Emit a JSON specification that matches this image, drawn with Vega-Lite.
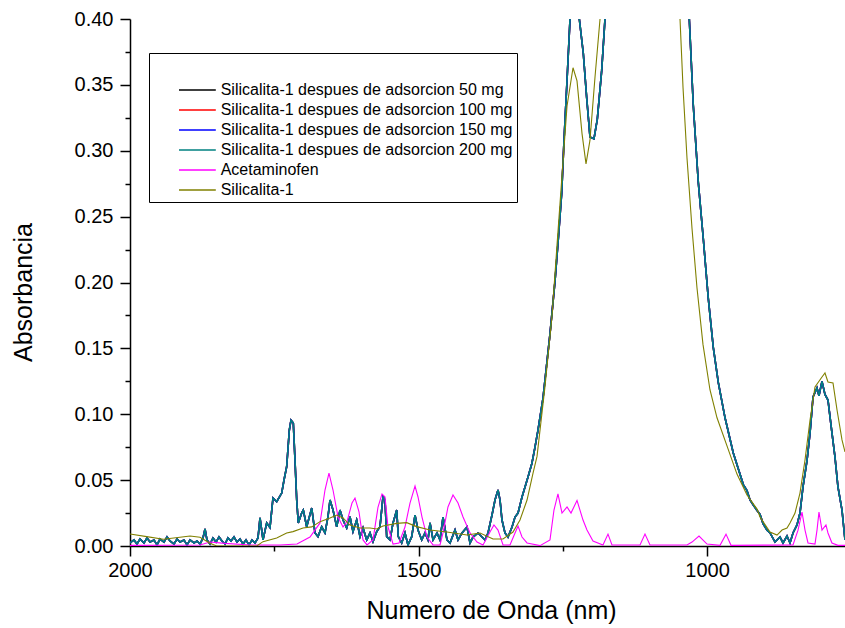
{
"$schema":"https://vega.github.io/schema/vega-lite/v6.json",
"width":715,"height":527,
"autosize":{"type":"none"},
"padding":{"left":130,"top":19,"right":0,"bottom":82},
"background":"white",
"config":{"view":{"stroke":null},"font":"Liberation Sans","axis":{"grid":false,"domainColor":"black","tickColor":"black","labelColor":"black","titleColor":"black","domainWidth":1.5,"tickWidth":1.5,"labelFont":"Liberation Sans","titleFont":"Liberation Sans","titleFontWeight":"normal"}},
"datasets":{
"ads":[
{"w":2000,"a50":0.0023,"a100":0.0023,"a150":0.0023,"a200":0.0023},
{"w":1993.1,"a50":0.0046,"a100":0.0046,"a150":0.0046,"a200":0.0046},
{"w":1987.9,"a50":0.0015,"a100":0.0015,"a150":0.0015,"a200":0.0015},
{"w":1982.7,"a50":0.0053,"a100":0.0053,"a150":0.0053,"a200":0.0053},
{"w":1975.7,"a50":0.0023,"a100":0.0023,"a150":0.0023,"a200":0.0023},
{"w":1970.5,"a50":0.0061,"a100":0.0061,"a150":0.0061,"a200":0.0061},
{"w":1965.3,"a50":0.003,"a100":0.003,"a150":0.003,"a200":0.003},
{"w":1958.4,"a50":0.0046,"a100":0.0046,"a150":0.0046,"a200":0.0046},
{"w":1953.2,"a50":0.0008,"a100":0.0008,"a150":0.0008,"a200":0.0008},
{"w":1948,"a50":0.0053,"a100":0.0053,"a150":0.0053,"a200":0.0053},
{"w":1941.1,"a50":0.003,"a100":0.003,"a150":0.003,"a200":0.003},
{"w":1935.9,"a50":0.0068,"a100":0.0068,"a150":0.0068,"a200":0.0068},
{"w":1930.7,"a50":0.0038,"a100":0.0038,"a150":0.0038,"a200":0.0038},
{"w":1923.8,"a50":0.0015,"a100":0.0015,"a150":0.0015,"a200":0.0015},
{"w":1918.5,"a50":0.0053,"a100":0.0053,"a150":0.0053,"a200":0.0053},
{"w":1913.4,"a50":0.003,"a100":0.003,"a150":0.003,"a200":0.003},
{"w":1906.4,"a50":0.0046,"a100":0.0046,"a150":0.0046,"a200":0.0046},
{"w":1901.2,"a50":0.0008,"a100":0.0008,"a150":0.0008,"a200":0.0008},
{"w":1896,"a50":0.0046,"a100":0.0046,"a150":0.0046,"a200":0.0046},
{"w":1889.1,"a50":0.0023,"a100":0.0023,"a150":0.0023,"a200":0.0023},
{"w":1883.9,"a50":0.0038,"a100":0.0038,"a150":0.0038,"a200":0.0038},
{"w":1878.7,"a50":0.0015,"a100":0.0015,"a150":0.0015,"a200":0.0015},
{"w":1873.5,"a50":0.0061,"a100":0.0061,"a150":0.0061,"a200":0.0061},
{"w":1870,"a50":0.0129,"a100":0.0129,"a150":0.0129,"a200":0.0129},
{"w":1866.6,"a50":0.0046,"a100":0.0046,"a150":0.0046,"a200":0.0046},
{"w":1861.4,"a50":0.0015,"a100":0.0015,"a150":0.0015,"a200":0.0015},
{"w":1856.2,"a50":0.0061,"a100":0.0061,"a150":0.0061,"a200":0.0061},
{"w":1850.9,"a50":0.003,"a100":0.003,"a150":0.003,"a200":0.003},
{"w":1845.8,"a50":0.0068,"a100":0.0068,"a150":0.0068,"a200":0.0068},
{"w":1840.6,"a50":0.0038,"a100":0.0038,"a150":0.0038,"a200":0.0038},
{"w":1835.4,"a50":0.0015,"a100":0.0015,"a150":0.0015,"a200":0.0015},
{"w":1830.2,"a50":0.0061,"a100":0.0061,"a150":0.0061,"a200":0.0061},
{"w":1825,"a50":0.0038,"a100":0.0038,"a150":0.0038,"a200":0.0038},
{"w":1819.8,"a50":0.0068,"a100":0.0068,"a150":0.0068,"a200":0.0068},
{"w":1814.6,"a50":0.003,"a100":0.003,"a150":0.003,"a200":0.003},
{"w":1809.4,"a50":0.0053,"a100":0.0053,"a150":0.0053,"a200":0.0053},
{"w":1804.2,"a50":0.0015,"a100":0.0015,"a150":0.0015,"a200":0.0015},
{"w":1799,"a50":0.0046,"a100":0.0046,"a150":0.0046,"a200":0.0046},
{"w":1793.8,"a50":0.0008,"a100":0.0008,"a150":0.0008,"a200":0.0008},
{"w":1788.6,"a50":0.0046,"a100":0.0046,"a150":0.0046,"a200":0.0046},
{"w":1783.4,"a50":0.0023,"a100":0.0023,"a150":0.0023,"a200":0.0023},
{"w":1778.2,"a50":0.0061,"a100":0.0061,"a150":0.0061,"a200":0.0061},
{"w":1774.7,"a50":0.0213,"a100":0.0213,"a150":0.0213,"a200":0.0213},
{"w":1769.5,"a50":0.0046,"a100":0.0046,"a150":0.0046,"a200":0.0046},
{"w":1763.1,"a50":0.0175,"a100":0.0175,"a150":0.0175,"a200":0.0175},
{"w":1757.4,"a50":0.014,"a100":0.014,"a150":0.014,"a200":0.014},
{"w":1752.2,"a50":0.0364,"a100":0.0364,"a150":0.0364,"a200":0.0364},
{"w":1745.8,"a50":0.0336,"a100":0.0336,"a150":0.0336,"a200":0.0336},
{"w":1737.1,"a50":0.0402,"a100":0.0402,"a150":0.0402,"a200":0.0402},
{"w":1733.1,"a50":0.0501,"a100":0.0501,"a150":0.0501,"a200":0.0501},
{"w":1728.5,"a50":0.0602,"a100":0.0602,"a150":0.0602,"a200":0.0602},
{"w":1723.9,"a50":0.088,"a100":0.088,"a150":0.088,"a200":0.088},
{"w":1721,"a50":0.0956,"a100":0.0956,"a150":0.0956,"a200":0.0956},
{"w":1717,"a50":0.0934,"a100":0.0934,"a150":0.0934,"a200":0.0934},
{"w":1714.1,"a50":0.0653,"a100":0.0653,"a150":0.0653,"a200":0.0653},
{"w":1711.1,"a50":0.0349,"a100":0.0349,"a150":0.0349,"a200":0.0349},
{"w":1708.4,"a50":0.0175,"a100":0.0175,"a150":0.0175,"a200":0.0175},
{"w":1702.5,"a50":0.025,"a100":0.025,"a150":0.025,"a200":0.025},
{"w":1699.7,"a50":0.0273,"a100":0.0273,"a150":0.0273,"a200":0.0273},
{"w":1693.8,"a50":0.0146,"a100":0.0146,"a150":0.0146,"a200":0.0146},
{"w":1685.1,"a50":0.0288,"a100":0.0288,"a150":0.0288,"a200":0.0288},
{"w":1679.4,"a50":0.0099,"a100":0.0099,"a150":0.0099,"a200":0.0099},
{"w":1674.2,"a50":0.0071,"a100":0.0071,"a150":0.0071,"a200":0.0071},
{"w":1667.8,"a50":0.0146,"a100":0.0146,"a150":0.0146,"a200":0.0146},
{"w":1662.1,"a50":0.0099,"a100":0.0099,"a150":0.0099,"a200":0.0099},
{"w":1656.9,"a50":0.0222,"a100":0.0222,"a150":0.0222,"a200":0.0222},
{"w":1653.4,"a50":0.0349,"a100":0.0349,"a150":0.0349,"a200":0.0349},
{"w":1648.2,"a50":0.0273,"a100":0.0273,"a150":0.0273,"a200":0.0273},
{"w":1641.8,"a50":0.0146,"a100":0.0146,"a150":0.0146,"a200":0.0146},
{"w":1636.1,"a50":0.0273,"a100":0.0273,"a150":0.0273,"a200":0.0273},
{"w":1630.9,"a50":0.0197,"a100":0.0197,"a150":0.0197,"a200":0.0197},
{"w":1624.5,"a50":0.0137,"a100":0.0137,"a150":0.0137,"a200":0.0137},
{"w":1618.8,"a50":0.0222,"a100":0.0222,"a150":0.0222,"a200":0.0222},
{"w":1613.6,"a50":0.0109,"a100":0.0109,"a150":0.0109,"a200":0.0109},
{"w":1607.2,"a50":0.0197,"a100":0.0197,"a150":0.0197,"a200":0.0197},
{"w":1601.4,"a50":0.0071,"a100":0.0071,"a150":0.0071,"a200":0.0071},
{"w":1596.2,"a50":0.0137,"a100":0.0137,"a150":0.0137,"a200":0.0137},
{"w":1589.8,"a50":0.0046,"a100":0.0046,"a150":0.0046,"a200":0.0046},
{"w":1584.1,"a50":0.0099,"a100":0.0099,"a150":0.0099,"a200":0.0099},
{"w":1578.9,"a50":0.0033,"a100":0.0033,"a150":0.0033,"a200":0.0033},
{"w":1572.5,"a50":0.0109,"a100":0.0109,"a150":0.0109,"a200":0.0109},
{"w":1566.8,"a50":0.0146,"a100":0.0146,"a150":0.0146,"a200":0.0146},
{"w":1561.6,"a50":0.0374,"a100":0.0374,"a150":0.0374,"a200":0.0374},
{"w":1558.1,"a50":0.0349,"a100":0.0349,"a150":0.0349,"a200":0.0349},
{"w":1555.2,"a50":0.0071,"a100":0.0071,"a150":0.0071,"a200":0.0071},
{"w":1549.4,"a50":0.0046,"a100":0.0046,"a150":0.0046,"a200":0.0046},
{"w":1544.2,"a50":0.0175,"a100":0.0175,"a150":0.0175,"a200":0.0175},
{"w":1537.8,"a50":0.0273,"a100":0.0273,"a150":0.0273,"a200":0.0273},
{"w":1535.1,"a50":0.0071,"a100":0.0071,"a150":0.0071,"a200":0.0071},
{"w":1529.2,"a50":0.0023,"a100":0.0023,"a150":0.0023,"a200":0.0023},
{"w":1523.5,"a50":0.0099,"a100":0.0099,"a150":0.0099,"a200":0.0099},
{"w":1518.3,"a50":0.0008,"a100":0.0008,"a150":0.0008,"a200":0.0008},
{"w":1511.8,"a50":0.0071,"a100":0.0071,"a150":0.0071,"a200":0.0071},
{"w":1506.1,"a50":0.0235,"a100":0.0235,"a150":0.0235,"a200":0.0235},
{"w":1500.9,"a50":0.0121,"a100":0.0121,"a150":0.0121,"a200":0.0121},
{"w":1494.5,"a50":0.0046,"a100":0.0046,"a150":0.0046,"a200":0.0046},
{"w":1488.8,"a50":0.0099,"a100":0.0099,"a150":0.0099,"a200":0.0099},
{"w":1483.6,"a50":0.0046,"a100":0.0046,"a150":0.0046,"a200":0.0046},
{"w":1480.1,"a50":0.0175,"a100":0.0175,"a150":0.0175,"a200":0.0175},
{"w":1474.9,"a50":0.0046,"a100":0.0046,"a150":0.0046,"a200":0.0046},
{"w":1468,"a50":0.0099,"a100":0.0099,"a150":0.0099,"a200":0.0099},
{"w":1462.8,"a50":0.0046,"a100":0.0046,"a150":0.0046,"a200":0.0046},
{"w":1457.6,"a50":0.022,"a100":0.022,"a150":0.022,"a200":0.022},
{"w":1450.7,"a50":0.0046,"a100":0.0046,"a150":0.0046,"a200":0.0046},
{"w":1445.5,"a50":0.0023,"a100":0.0023,"a150":0.0023,"a200":0.0023},
{"w":1436.8,"a50":0.0121,"a100":0.0121,"a150":0.0121,"a200":0.0121},
{"w":1431.6,"a50":0.0046,"a100":0.0046,"a150":0.0046,"a200":0.0046},
{"w":1424.7,"a50":0.0099,"a100":0.0099,"a150":0.0099,"a200":0.0099},
{"w":1416,"a50":0.0144,"a100":0.0144,"a150":0.0144,"a200":0.0144},
{"w":1410.8,"a50":0.0023,"a100":0.0023,"a150":0.0023,"a200":0.0023},
{"w":1405.6,"a50":0.0068,"a100":0.0068,"a150":0.0068,"a200":0.0068},
{"w":1397,"a50":0.0099,"a100":0.0099,"a150":0.0099,"a200":0.0099},
{"w":1390,"a50":0.0068,"a100":0.0068,"a150":0.0068,"a200":0.0068},
{"w":1384.8,"a50":0.0046,"a100":0.0046,"a150":0.0046,"a200":0.0046},
{"w":1379.6,"a50":0.0099,"a100":0.0099,"a150":0.0099,"a200":0.0099},
{"w":1372.7,"a50":0.0235,"a100":0.0235,"a150":0.0235,"a200":0.0235},
{"w":1367.5,"a50":0.0349,"a100":0.0349,"a150":0.0349,"a200":0.0349},
{"w":1362.3,"a50":0.0425,"a100":0.0425,"a150":0.0425,"a200":0.0425},
{"w":1358.8,"a50":0.0349,"a100":0.0349,"a150":0.0349,"a200":0.0349},
{"w":1355.4,"a50":0.0197,"a100":0.0197,"a150":0.0197,"a200":0.0197},
{"w":1350.2,"a50":0.0099,"a100":0.0099,"a150":0.0099,"a200":0.0099},
{"w":1345,"a50":0.0068,"a100":0.0068,"a150":0.0068,"a200":0.0068},
{"w":1338,"a50":0.0144,"a100":0.0144,"a150":0.0144,"a200":0.0144},
{"w":1332.8,"a50":0.022,"a100":0.022,"a150":0.022,"a200":0.022},
{"w":1327.6,"a50":0.025,"a100":0.025,"a150":0.025,"a200":0.025},
{"w":1320.7,"a50":0.0372,"a100":0.0372,"a150":0.0372,"a200":0.0372},
{"w":1315.5,"a50":0.0448,"a100":0.0448,"a150":0.0448,"a200":0.0448},
{"w":1310.3,"a50":0.0524,"a100":0.0524,"a150":0.0524,"a200":0.0524},
{"w":1303.4,"a50":0.063,"a100":0.063,"a150":0.063,"a200":0.063},
{"w":1298.2,"a50":0.0751,"a100":0.0751,"a150":0.0751,"a200":0.0751},
{"w":1293,"a50":0.088,"a100":0.088,"a150":0.088,"a200":0.088},
{"w":1284.3,"a50":0.1123,"a100":0.1123,"a150":0.1123,"a200":0.1123},
{"w":1272.2,"a50":0.161,"a100":0.161,"a150":0.161,"a200":0.161},
{"w":1263.5,"a50":0.201,"a100":0.201,"a150":0.201,"a200":0.201},
{"w":1257.8,"a50":0.233,"a100":0.233,"a150":0.233,"a200":0.233},
{"w":1251.9,"a50":0.268,"a100":0.268,"a150":0.268,"a200":0.268},
{"w":1247.9,"a50":0.308,"a100":0.308,"a150":0.308,"a200":0.308},
{"w":1243.3,"a50":0.348,"a100":0.348,"a150":0.348,"a200":0.348},
{"w":1237.5,"a50":0.4,"a100":0.4,"a150":0.4,"a200":0.4},
{"w":1230.6,"a50":0.43,"a100":0.43,"a150":0.43,"a200":0.43},
{"w":1221.4,"a50":0.4,"a100":0.4,"a150":0.4,"a200":0.4},
{"w":1214.5,"a50":0.374,"a100":0.374,"a150":0.374,"a200":0.374},
{"w":1208.6,"a50":0.34,"a100":0.34,"a150":0.34,"a200":0.34},
{"w":1202.9,"a50":0.3105,"a100":0.3105,"a150":0.3105,"a200":0.3105},
{"w":1196,"a50":0.309,"a100":0.309,"a150":0.309,"a200":0.309},
{"w":1190.2,"a50":0.324,"a100":0.324,"a150":0.324,"a200":0.324},
{"w":1182.6,"a50":0.361,"a100":0.361,"a150":0.361,"a200":0.361},
{"w":1176.9,"a50":0.4,"a100":0.4,"a150":0.4,"a200":0.4},
{"w":1150.9,"a50":0.5,"a100":0.5,"a150":0.5,"a200":0.5},
{"w":1104.1,"a50":0.56,"a100":0.56,"a150":0.56,"a200":0.56},
{"w":1064.2,"a50":0.5,"a100":0.5,"a150":0.5,"a200":0.5},
{"w":1030.8,"a50":0.4,"a100":0.4,"a150":0.4,"a200":0.4},
{"w":1023.9,"a50":0.3345,"a100":0.3345,"a150":0.3345,"a200":0.3345},
{"w":1015.2,"a50":0.276,"a100":0.276,"a150":0.276,"a200":0.276},
{"w":1006.5,"a50":0.233,"a100":0.233,"a150":0.233,"a200":0.233},
{"w":997.9,"a50":0.188,"a100":0.188,"a150":0.188,"a200":0.188},
{"w":989.2,"a50":0.1506,"a100":0.1506,"a150":0.1506,"a200":0.1506},
{"w":980.5,"a50":0.124,"a100":0.124,"a150":0.124,"a200":0.124},
{"w":968.9,"a50":0.0973,"a100":0.0973,"a150":0.0973,"a200":0.0973},
{"w":954.6,"a50":0.0706,"a100":0.0706,"a150":0.0706,"a200":0.0706},
{"w":937.2,"a50":0.0466,"a100":0.0466,"a150":0.0466,"a200":0.0466},
{"w":930.8,"a50":0.042,"a100":0.042,"a150":0.042,"a200":0.042},
{"w":925.6,"a50":0.035,"a100":0.035,"a150":0.035,"a200":0.035},
{"w":919.9,"a50":0.031,"a100":0.031,"a150":0.031,"a200":0.031},
{"w":913.4,"a50":0.027,"a100":0.027,"a150":0.027,"a200":0.027},
{"w":908.3,"a50":0.024,"a100":0.024,"a150":0.024,"a200":0.024},
{"w":903,"a50":0.017,"a100":0.017,"a150":0.017,"a200":0.017},
{"w":896.1,"a50":0.012,"a100":0.012,"a150":0.012,"a200":0.012},
{"w":890.9,"a50":0.0099,"a100":0.0099,"a150":0.0099,"a200":0.0099},
{"w":882.3,"a50":0.003,"a100":0.003,"a150":0.003,"a200":0.003},
{"w":873.6,"a50":0.0068,"a100":0.0068,"a150":0.0068,"a200":0.0068},
{"w":868.4,"a50":0.0023,"a100":0.0023,"a150":0.0023,"a200":0.0023},
{"w":861.5,"a50":0.0076,"a100":0.0076,"a150":0.0076,"a200":0.0076},
{"w":856.3,"a50":0.0023,"a100":0.0023,"a150":0.0023,"a200":0.0023},
{"w":851.1,"a50":0.0099,"a100":0.0099,"a150":0.0099,"a200":0.0099},
{"w":844.2,"a50":0.016,"a100":0.016,"a150":0.016,"a200":0.016},
{"w":839,"a50":0.025,"a100":0.025,"a150":0.025,"a200":0.025},
{"w":833.8,"a50":0.0448,"a100":0.0448,"a150":0.0448,"a200":0.0448},
{"w":826.8,"a50":0.065,"a100":0.065,"a150":0.065,"a200":0.065},
{"w":821.6,"a50":0.0858,"a100":0.0858,"a150":0.0858,"a200":0.0858},
{"w":816.4,"a50":0.1131,"a100":0.1131,"a150":0.1131,"a200":0.1131},
{"w":809.5,"a50":0.12,"a100":0.12,"a150":0.12,"a200":0.12},
{"w":806.1,"a50":0.114,"a100":0.114,"a150":0.114,"a200":0.114},
{"w":800.9,"a50":0.125,"a100":0.125,"a150":0.125,"a200":0.125},
{"w":795.7,"a50":0.115,"a100":0.115,"a150":0.115,"a200":0.115},
{"w":790.5,"a50":0.1108,"a100":0.1108,"a150":0.1108,"a200":0.1108},
{"w":783.6,"a50":0.0858,"a100":0.0858,"a150":0.0858,"a200":0.0858},
{"w":778.4,"a50":0.0676,"a100":0.0676,"a150":0.0676,"a200":0.0676},
{"w":773.2,"a50":0.0448,"a100":0.0448,"a150":0.0448,"a200":0.0448},
{"w":766.2,"a50":0.0273,"a100":0.0273,"a150":0.0273,"a200":0.0273},
{"w":761,"a50":0.0046,"a100":0.0046,"a150":0.0046,"a200":0.0046}
],
"acet":[
{"w":2000,"A":0.0005},{"w":1878.7,"A":0.0008},{"w":1861.4,"A":0.003},{"w":1835.4,"A":0.002},{"w":1792.1,"A":0.0008},{"w":1740.1,"A":0.0008},{"w":1710.6,"A":0.0015},{"w":1688.1,"A":0.0068},{"w":1670.7,"A":0.0175},{"w":1662.1,"A":0.0425},{"w":1655.2,"A":0.0554},{"w":1648.2,"A":0.0425},{"w":1639.5,"A":0.022},{"w":1630.9,"A":0.0144},{"w":1624,"A":0.0184},{"w":1615.3,"A":0.0326},{"w":1610.1,"A":0.0364},{"w":1603.2,"A":0.026},{"w":1596.2,"A":0.0046},{"w":1589.3,"A":0.0008},{"w":1578.9,"A":0.0046},{"w":1570.2,"A":0.0296},{"w":1563.3,"A":0.0395},{"w":1558.1,"A":0.0372},{"w":1552.9,"A":0.0144},{"w":1544.2,"A":0.0015},{"w":1533.8,"A":0.0023},{"w":1523.5,"A":0.0144},{"w":1514.8,"A":0.0326},{"w":1506.1,"A":0.0455},{"w":1500.9,"A":0.0372},{"w":1494,"A":0.022},{"w":1485.3,"A":0.0068},{"w":1474.9,"A":0.0008},{"w":1462.8,"A":0.0008},{"w":1457.6,"A":0.0099},{"w":1449,"A":0.0296},{"w":1440.3,"A":0.0387},{"w":1431.6,"A":0.0326},{"w":1422.9,"A":0.022},{"w":1410.8,"A":0.0099},{"w":1398.7,"A":0.003},{"w":1388.3,"A":0.0008},{"w":1376.2,"A":0.0106},{"w":1369.3,"A":0.016},{"w":1362.3,"A":0.0121},{"w":1353.6,"A":0.0008},{"w":1341.5,"A":0.0008},{"w":1332.8,"A":0.0099},{"w":1327.6,"A":0.0152},{"w":1320.7,"A":0.0068},{"w":1312,"A":0.0023},{"w":1289.5,"A":0.0003},{"w":1272.2,"A":0.0046},{"w":1265.3,"A":0.0273},{"w":1258.4,"A":0.0395},{"w":1251.4,"A":0.025},{"w":1242.7,"A":0.0296},{"w":1235.8,"A":0.025},{"w":1225.4,"A":0.0346},{"w":1215,"A":0.0197},{"w":1208.1,"A":0.0121},{"w":1197.7,"A":0.0038},{"w":1180.4,"A":0.0008},{"w":1171.7,"A":0.009},{"w":1164.8,"A":0.0008},{"w":1116.2,"A":0.0008},{"w":1107.6,"A":0.009},{"w":1098.9,"A":0.0008},{"w":1034.8,"A":0.0008},{"w":1026.1,"A":0.003},{"w":1014,"A":0.0076},{"w":1000.1,"A":0.0015},{"w":977.6,"A":0.0005},{"w":967.2,"A":0.009},{"w":958.5,"A":0.0005},{"w":851.1,"A":0.0008},{"w":842.4,"A":0.012},{"w":835.5,"A":0.0258},{"w":830.3,"A":0.0121},{"w":825.1,"A":0.0023},{"w":813,"A":0.0015},{"w":809.5,"A":0.0121},{"w":806.1,"A":0.0258},{"w":800.9,"A":0.0121},{"w":794,"A":0.016},{"w":790.5,"A":0.0099},{"w":783.6,"A":0.0023},{"w":773.2,"A":0.0005},{"w":761,"A":0.0005}
],
"sil":[
{"w":2000,"A":0.0091},{"w":1971.1,"A":0.0071},{"w":1942.3,"A":0.0051},{"w":1913.4,"A":0.0066},{"w":1896,"A":0.0076},{"w":1878.7,"A":0.0066},{"w":1861.4,"A":0.0021},{"w":1849.8,"A":0},{"w":1809.4,"A":0},{"w":1780.4,"A":0},{"w":1769.5,"A":0.0033},{"w":1745.8,"A":0.0061},{"w":1728.5,"A":0.0099},{"w":1717.5,"A":0.0109},{"w":1700.2,"A":0.0137},{"w":1685.1,"A":0.0145},{"w":1670.7,"A":0.0185},{"w":1653.4,"A":0.0213},{"w":1641.8,"A":0.0235},{"w":1630.9,"A":0.0213},{"w":1618.8,"A":0.0159},{"w":1601.4,"A":0.0137},{"w":1584.1,"A":0.0137},{"w":1572.5,"A":0.0129},{"w":1561.6,"A":0.0152},{"w":1537.8,"A":0.0172},{"w":1520.5,"A":0.0177},{"w":1503.2,"A":0.0147},{"w":1480.1,"A":0.0121},{"w":1450.7,"A":0.0106},{"w":1416,"A":0.0083},{"w":1393.5,"A":0.0099},{"w":1370.9,"A":0.0053},{"w":1353.6,"A":0.0053},{"w":1336.3,"A":0.0106},{"w":1324.2,"A":0.0197},{"w":1312,"A":0.0349},{"w":1301.6,"A":0.0554},{"w":1294.7,"A":0.068},{"w":1280.9,"A":0.121},{"w":1268.7,"A":0.1746},{"w":1260.1,"A":0.228},{"w":1251.4,"A":0.281},{"w":1242.7,"A":0.334},{"w":1232.3,"A":0.363},{"w":1225.4,"A":0.353},{"w":1216.7,"A":0.313},{"w":1209.8,"A":0.29},{"w":1202.9,"A":0.308},{"w":1194.2,"A":0.356},{"w":1185.5,"A":0.4},{"w":1150.9,"A":0.52},{"w":1116.2,"A":0.58},{"w":1081.6,"A":0.55},{"w":1046.9,"A":0.4},{"w":1041.7,"A":0.348},{"w":1034.8,"A":0.2945},{"w":1026.1,"A":0.241},{"w":1017.5,"A":0.196},{"w":1007.1,"A":0.153},{"w":995,"A":0.1186},{"w":982.8,"A":0.0973},{"w":965.5,"A":0.076},{"w":948.2,"A":0.0546},{"w":930.8,"A":0.0387},{"w":913.4,"A":0.028},{"w":908.3,"A":0.022},{"w":890.9,"A":0.0106},{"w":878.8,"A":0.0083},{"w":870.1,"A":0.0121},{"w":861.5,"A":0.0137},{"w":856.3,"A":0.0175},{"w":847.6,"A":0.025},{"w":839,"A":0.0402},{"w":830.3,"A":0.0653},{"w":821.6,"A":0.0956},{"w":813,"A":0.1207},{"w":800.9,"A":0.1283},{"w":795.7,"A":0.1313},{"w":790.5,"A":0.1245},{"w":781.8,"A":0.1237},{"w":774.8,"A":0.1032},{"w":766.2,"A":0.0805},{"w":761,"A":0.0714}
]
},
"layer":[
{"data":{"name":"ads"},
"transform":[{"fold":["a50","a100","a150","a200"],"as":["series","A"]}],
"mark":{"type":"line","clip":true},
"encoding":{
"x":{"field":"w","type":"quantitative","scale":{"domain":[761,2000],"reverse":true,"nice":false,"zero":false},
"axis":{"orient":"bottom","values":[2000,1500,1000],"format":"d","labelFontSize":20,"tickSize":10,"labelPadding":4,"labelFlush":false,"title":"Numero de Onda (nm)","titleFontSize":25,"titleX":361,"titleY":72,"titleBaseline":"alphabetic","titleAlign":"center"}},
"y":{"field":"A","type":"quantitative","scale":{"domain":[0,0.4],"nice":false,"zero":false},
"axis":{"orient":"left","values":[0,0.05,0.1,0.15,0.2,0.25,0.3,0.35,0.4],"format":".2f","labelFontSize":20,"tickSize":10,"labelPadding":7,"labelFlush":false,"title":"Absorbancia","titleFontSize":25,"titleX":-107,"titleY":273,"titleAlign":"center","titleBaseline":"middle","titleAngle":-90}},
"color":{"field":"series","type":"nominal",
"scale":{"domain":["a50","a100","a150","a200","acet","sil"],"range":["#000000","#FF0000","#0000FF","#008080","#FF00FF","#808000"]},
"legend":{"orient":"none","legendX":19,"legendY":34,"title":"\u00a0","titleFontSize":16,"titlePadding":8,"titleLimit":600,"padding":4,"strokeColor":"black","fillColor":"white","symbolType":"M-2.3,0H2.3","symbolSize":256,"symbolStrokeWidth":1.5,"symbolOffset":35.4,"labelOffset":14.3,"labelFontSize":16,"labelFont":"Liberation Sans","labelColor":"black","labelLimit":500,"rowPadding":3,
"labelExpr":"datum.value == 'a50' ? 'Silicalita-1 despues de adsorcion 50 mg' : datum.value == 'a100' ? 'Silicalita-1 despues de adsorcion 100 mg\u00a0\u00a0' : datum.value == 'a150' ? 'Silicalita-1 despues de adsorcion 150 mg\u00a0\u00a0' : datum.value == 'a200' ? 'Silicalita-1 despues de adsorcion 200 mg\u00a0\u00a0' : datum.value == 'acet' ? 'Acetaminofen' : 'Silicalita-1'"}},
"strokeWidth":{"field":"series","type":"nominal","scale":{"domain":["a50","a100","a150","a200"],"range":[1.6,1.6,2.2,1.3]},"legend":null}
}},
{"data":{"name":"acet"},
"mark":{"type":"line","clip":true,"strokeWidth":1.1},
"encoding":{
"x":{"field":"w","type":"quantitative","axis":{"orient":"bottom","values":[1750,1250],"tickSize":5,"labels":false,"domain":false,"title":null}},
"y":{"field":"A","type":"quantitative","axis":{"orient":"left","values":[0.025,0.075,0.125,0.175,0.225,0.275,0.325,0.375],"tickSize":5,"labels":false,"domain":false,"title":null}},
"color":{"datum":"acet"}}},
{"data":{"name":"sil"},
"mark":{"type":"line","clip":true,"strokeWidth":1.1},
"encoding":{
"x":{"field":"w","type":"quantitative","axis":null},
"y":{"field":"A","type":"quantitative","axis":null},
"color":{"datum":"sil"}}}
],
"resolve":{"axis":{"x":"independent","y":"independent"}}
}
